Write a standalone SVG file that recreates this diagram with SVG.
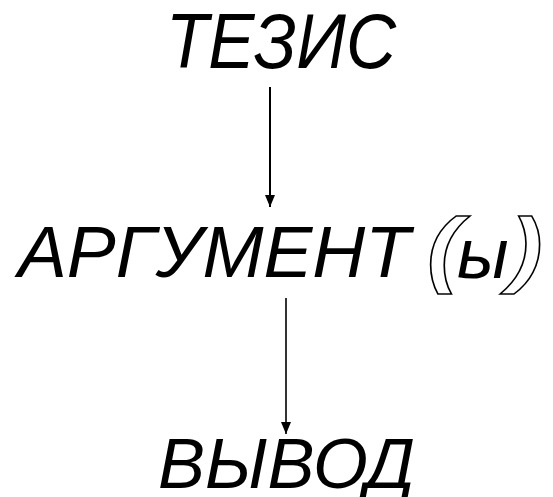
<svg xmlns="http://www.w3.org/2000/svg" width="553" height="497" viewBox="0 0 553 497">
<style>
.t{font-family:"Liberation Sans",Arial,sans-serif;font-style:italic;fill:#000}
.p{font-family:"Liberation Sans",Arial,sans-serif;font-style:italic;font-weight:bold;fill:#fff;stroke:#000;stroke-width:1.4}
.c{stroke:#000;fill:none}
</style>
<defs>
<marker id="ah" markerWidth="12" markerHeight="10" refX="12" refY="5" orient="auto" markerUnits="userSpaceOnUse" viewBox="0 0 12 10">
<path d="M0,0 L12,5 L0,10 Z" fill="#000"/>
</marker>
</defs>
<rect width="553" height="497" fill="#fff"/>
<g id="connectors">
<line class="c" x1="270" y1="87" x2="270" y2="207" stroke-width="2" marker-end="url(#ah)"/>
<line class="c" x1="286" y1="298" x2="286" y2="434" stroke-width="1.6" marker-end="url(#ah)"/>
</g>
<g id="thesis">
<text class="t" x="166" y="68" font-size="77" textLength="230" lengthAdjust="spacingAndGlyphs">ТЕЗИС</text>
</g>
<g id="arguments">
<text class="t" x="18" y="277" font-size="72" textLength="392" lengthAdjust="spacingAndGlyphs">АРГУМЕНТ</text>
<text class="p" transform="translate(427 277) scale(1.2 1)" x="0" y="0" font-size="84">(</text>
<text class="t" x="457" y="278" font-size="70">ы</text>
<text class="p" transform="translate(509 277) scale(1.2 1)" x="0" y="0" font-size="84">)</text>
</g>
<g id="conclusion">
<text class="t" x="158" y="488" font-size="70" textLength="257" lengthAdjust="spacingAndGlyphs">ВЫВОД</text>
</g>
</svg>
